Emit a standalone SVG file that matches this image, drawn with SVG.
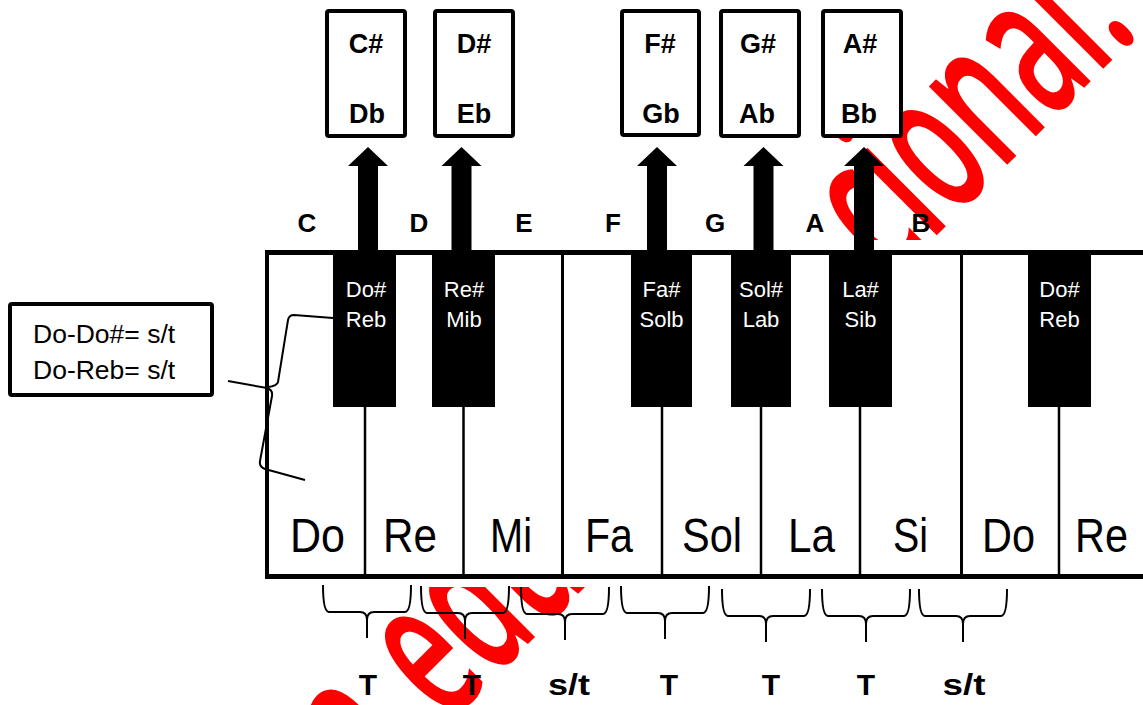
<svg xmlns="http://www.w3.org/2000/svg" width="1143" height="705" viewBox="0 0 1143 705">
<style>
.bold{font-family:"Liberation Sans",Arial,sans-serif;font-weight:bold;fill:#000}
.wk{font-family:"Liberation Sans",Arial,sans-serif;font-size:48px;fill:#000}
.bk{font-family:"Liberation Sans",Arial,sans-serif;font-size:22px;fill:#fff;text-anchor:middle}
.box{fill:#fff;stroke:#000;stroke-width:4}
.ln{stroke:#000;fill:none}
.wm{font-family:"Open Sans","Noto Sans",sans-serif;font-size:205px;font-weight:600;fill:#ff0000}
</style>
<defs>
<path id="arrow" d="M-10,252 L-10,166 L-20,166 L0,147 L20,166 L10,166 L10,252 Z" fill="#000"/>
<path id="brace" d="M0,0 Q0,27 6,27 L37,27 Q44,27 44,35 L44,53 M44,35 Q44,27 51,27 L82,27 Q88,27 88,0" fill="none" stroke="#000" stroke-width="2"/>
</defs>
<rect width="1143" height="705" fill="#fff"/>
<g id="watermark">
<text class="wm" transform="translate(586,586) rotate(-45) scale(0.546,1)"><tspan x="-551">a</tspan><tspan x="-361">edu</tspan><tspan x="790">cional.</tspan></text>
</g>
<g id="keyboard">
<rect x="265" y="240" width="878" height="347" fill="#fff"/>
<line class="ln" x1="265" y1="252.5" x2="1143" y2="252.5" stroke-width="5"/>
<line class="ln" x1="267" y1="250" x2="267" y2="579" stroke-width="4"/>
<line class="ln" x1="265" y1="576.5" x2="1143" y2="576.5" stroke-width="5"/>
<line class="ln" x1="562.5" y1="252" x2="562.5" y2="576" stroke-width="3"/>
<line class="ln" x1="961.5" y1="252" x2="961.5" y2="576" stroke-width="3"/>
<g stroke="#000" stroke-width="2.5">
<line x1="365" y1="405" x2="365" y2="576"/>
<line x1="463.5" y1="405" x2="463.5" y2="576"/>
<line x1="662" y1="405" x2="662" y2="576"/>
<line x1="761" y1="405" x2="761" y2="576"/>
<line x1="860" y1="405" x2="860" y2="576"/>
<line x1="1059" y1="405" x2="1059" y2="576"/>
</g>
<g fill="#000">
<rect x="333" y="252" width="63" height="155"/>
<rect x="432" y="252" width="63" height="155"/>
<rect x="631" y="252" width="61" height="155"/>
<rect x="731" y="252" width="60" height="155"/>
<rect x="829" y="252" width="63" height="155"/>
<rect x="1028" y="252" width="63" height="155"/>
</g>
<text class="bk" x="366" y="297">Do#</text><text class="bk" x="366" y="327">Reb</text>
<text class="bk" x="464" y="297">Re#</text><text class="bk" x="464" y="327">Mib</text>
<text class="bk" x="661.5" y="297">Fa#</text><text class="bk" x="661.5" y="327">Solb</text>
<text class="bk" x="761" y="297">Sol#</text><text class="bk" x="761" y="327">Lab</text>
<text class="bk" x="860.5" y="297">La#</text><text class="bk" x="860.5" y="327">Sib</text>
<text class="bk" x="1059.5" y="297">Do#</text><text class="bk" x="1059.5" y="327">Reb</text>
<text class="wk" x="290" y="552" textLength="55" lengthAdjust="spacingAndGlyphs">Do</text>
<text class="wk" x="383" y="552" textLength="54" lengthAdjust="spacingAndGlyphs">Re</text>
<text class="wk" x="490" y="552" textLength="42" lengthAdjust="spacingAndGlyphs">Mi</text>
<text class="wk" x="585" y="552" textLength="48" lengthAdjust="spacingAndGlyphs">Fa</text>
<text class="wk" x="682" y="552" textLength="60" lengthAdjust="spacingAndGlyphs">Sol</text>
<text class="wk" x="788" y="552" textLength="47" lengthAdjust="spacingAndGlyphs">La</text>
<text class="wk" x="893" y="552" textLength="35" lengthAdjust="spacingAndGlyphs">Si</text>
<text class="wk" x="982" y="552" textLength="53" lengthAdjust="spacingAndGlyphs">Do</text>
<text class="wk" x="1075" y="552" textLength="53" lengthAdjust="spacingAndGlyphs">Re</text>
</g>
<g id="note-letters" class="bold" font-size="26" text-anchor="middle">
<text x="307" y="232">C</text>
<text x="419" y="232">D</text>
<text x="524" y="232">E</text>
<text x="613" y="232">F</text>
<text x="715" y="232">G</text>
<text x="815" y="232">A</text>
<text x="921" y="232">B</text>
</g>
<g id="connectors">
<use href="#arrow" x="368"/>
<use href="#arrow" x="461.5"/>
<use href="#arrow" x="657"/>
<use href="#arrow" x="763.5"/>
<use href="#arrow" x="864"/>
<path class="ln" stroke-width="2" d="M333,318 L294,315 Q289,315 288,320 L278,382 Q277,386 268,387"/>
<path class="ln" stroke-width="2" d="M228,381 L267,388 Q273,390 272,396 L260,461 Q259,467 265,469 L305,480"/>
</g>
<g id="box-cs"><rect class="box" x="327" y="11" width="78" height="125" rx="2"/>
<text class="bold" font-size="27" x="366" y="53" text-anchor="middle">C#</text>
<text class="bold" font-size="27" x="367" y="123" text-anchor="middle">Db</text></g>
<g id="box-ds"><rect class="box" x="435" y="11" width="78" height="125" rx="2"/>
<text class="bold" font-size="27" x="474" y="53" text-anchor="middle">D#</text>
<text class="bold" font-size="27" x="474" y="123" text-anchor="middle">Eb</text></g>
<g id="box-fs"><rect class="box" x="622" y="11" width="77" height="124" rx="2"/>
<text class="bold" font-size="27" x="660" y="53" text-anchor="middle">F#</text>
<text class="bold" font-size="27" x="661" y="123" text-anchor="middle">Gb</text></g>
<g id="box-gs"><rect class="box" x="721" y="11" width="78" height="125" rx="2"/>
<text class="bold" font-size="27" x="758" y="53" text-anchor="middle">G#</text>
<text class="bold" font-size="27" x="757" y="123" text-anchor="middle">Ab</text></g>
<g id="box-as"><rect class="box" x="823" y="11" width="78" height="125" rx="2"/>
<text class="bold" font-size="27" x="860" y="53" text-anchor="middle">A#</text>
<text class="bold" font-size="27" x="859" y="123" text-anchor="middle">Bb</text></g>
<g id="note-box"><rect class="box" x="10" y="304" width="202" height="91" rx="2"/>
<text font-family="Liberation Sans, Arial, sans-serif" font-size="26.5" x="33" y="343">Do-Do#= s/t</text>
<text font-family="Liberation Sans, Arial, sans-serif" font-size="26.5" x="33" y="379">Do-Reb= s/t</text></g>
<g id="braces">
<use href="#brace" x="323" y="585"/>
<use href="#brace" x="421" y="586"/>
<use href="#brace" x="521" y="587"/>
<use href="#brace" x="621" y="586"/>
<use href="#brace" x="722" y="589"/>
<use href="#brace" x="822" y="589"/>
<use href="#brace" x="919" y="589"/>
</g>
<g id="steps" class="bold" font-size="30" text-anchor="middle">
<text x="368" y="695">T</text>
<text x="472" y="695">T</text>
<text x="569" y="695" textLength="42" lengthAdjust="spacingAndGlyphs">s/t</text>
<text x="669" y="695">T</text>
<text x="771" y="695">T</text>
<text x="866" y="695">T</text>
<text x="964" y="695" textLength="43" lengthAdjust="spacingAndGlyphs">s/t</text>
</g>
</svg>
